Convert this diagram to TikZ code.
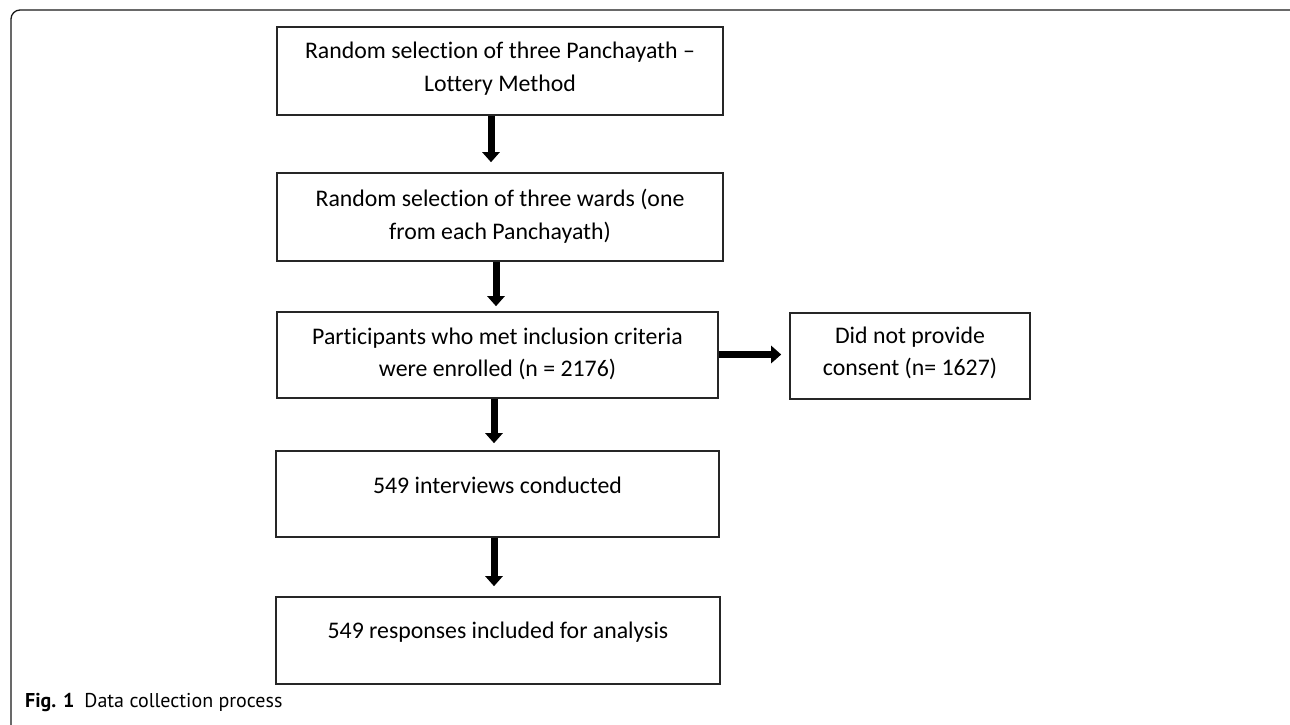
\documentclass[tikz,border=0pt]{standalone}
\usepackage{fontspec}
\setmainfont{Carlito}[Ligatures=CommonOff]
\newfontfamily\capfont{PT Sans}
\usetikzlibrary{arrows.meta}
\begin{document}
\begin{tikzpicture}[x=1pt,y=-1pt,
  box/.style={draw=black!85, line width=1.6pt, inner sep=0pt},
  txt/.style={inner sep=0pt, align=center, font=\fontsize{23.8}{32.5}\selectfont},
  flow/.style={line width=7pt, -{Triangle[width=17pt,length=10pt]}},
  frame/.style={draw=black!90, line width=1.3pt, rounded corners=9pt}
]
\useasboundingbox (0,0) rectangle (1290,724);
\draw[frame] (11,10) rectangle (1300,735);

\node[box,minimum width=446pt,minimum height=88pt] (b1) at (500,71) {};
\node[box,minimum width=446pt,minimum height=88pt] (b2) at (500,217) {};
\node[box,minimum width=441pt,minimum height=86pt] (b3) at (497.5,355) {};
\node[box,minimum width=443pt,minimum height=86pt] (b4) at (497.5,494) {};
\node[box,minimum width=444pt,minimum height=87pt] (b5) at (498,640.5) {};
\node[box,minimum width=240pt,minimum height=86pt] (s1) at (910,356) {};

\node[txt] (t1) at ([yshift=2.5pt]b1.center) {Random selection of three Panchayath –\\Lottery Method};
\node[txt] (t2) at ([yshift=1pt]b2.center) {Random selection of three wards (one\\from each Panchayath)};
\node[txt] (t3) at ([yshift=1pt]b3.center) {Participants who met inclusion criteria\\were enrolled (n = 2176)};
\node[txt] (t4) at ([yshift=9pt]b4.center) {549 interviews conducted};
\node[txt] (t5) at ([yshift=8.5pt]b5.center) {549 responses included for analysis};
\node[txt] (t6) at ([yshift=3pt]s1.center) {Did not provide\\consent (n= 1627)};

\draw[flow,shorten >=10pt] ([xshift=-9pt]b1.south) -- ([xshift=-9pt]b1.south |- b2.north);
\draw[flow,shorten >=5pt] ([xshift=-4pt]b2.south) -- ([xshift=-4pt]b2.south |- b3.north);
\draw[flow,shorten >=7pt] ([xshift=-3.5pt]b3.south) -- ([xshift=-3.5pt]b3.south |- b4.north);
\draw[flow,shorten >=10pt] ([xshift=-3.5pt]b4.south) -- ([xshift=-3.5pt]b4.south |- b5.north);
\draw[flow,shorten >=8pt] ([yshift=1.5pt]b3.east |- s1.west) -- ([yshift=1.5pt]s1.west);

\node[anchor=base west, inner sep=0pt, font=\capfont\fontsize{20}{24}\selectfont] (cap) at (25,707)
  {\textbf{Fig. 1}\hspace{0.5em}Data collection process};
\end{tikzpicture}
\end{document}
